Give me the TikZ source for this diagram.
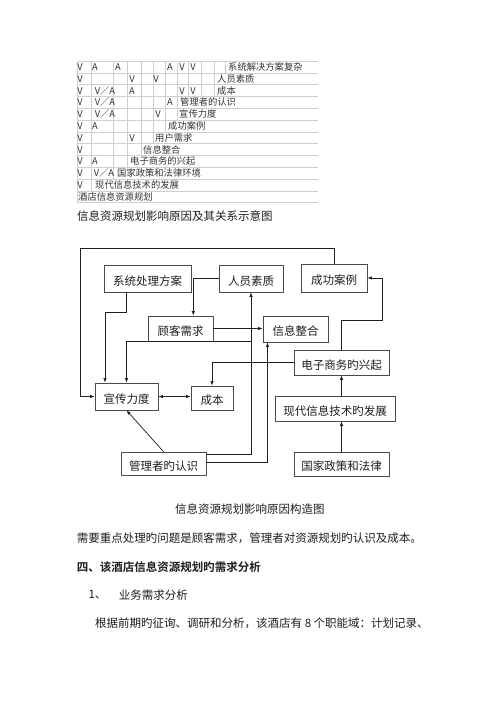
\documentclass[tikz,border=0pt]{standalone}
\usepackage{fontspec}
\setmainfont{Noto Sans CJK SC}[BoldFont={Noto Sans CJK SC Bold}]
\usetikzlibrary{arrows.meta,positioning}
\definecolor{ink}{HTML}{1E1E1E}
\definecolor{frame}{HTML}{4A4A4A}
\definecolor{gridline}{HTML}{CFCFCF}
\definecolor{celltext}{HTML}{333333}

\begin{document}
\begin{tikzpicture}[x=1pt,y=-1pt,>={Latex[length=4.5pt,width=3.4pt]},
  box/.style={draw=frame,line width=0.7pt,inner sep=0pt,text height=13.5pt,text depth=0pt,font=\fontsize{11.5}{13}\selectfont,text=ink},
  wire/.style={->,draw=ink,line width=0.7pt},
  cell/.style={inner sep=0pt,text=celltext,font=\fontsize{9.3}{11}\selectfont},
  para/.style={anchor=west,inner sep=0pt,text=ink,font=\fontsize{11.5}{14}\selectfont},
  gridln/.style={draw=gridline,line width=0.5pt}]
\fill[white] (0,0) rectangle (500,707);
\useasboundingbox (0,0) rectangle (500,707);

% matrix table
\def\colx{{77,91,113,127,141,153,165,177,188,201,214,225}}
\foreach \r in {0,...,12} \draw[gridln] (77,{61+11.8*\r}) -- (318,{61+11.8*\r});
\foreach \r/\n in {0/11,1/10,2/10,3/7,4/7,5/6,6/5,7/4,8/3,9/2,10/1,11/0}
  \foreach \k in {0,...,\n} {
    \pgfmathsetmacro\cx{\colx[\k]}
    \draw[gridln] (\cx,{61+11.8*\r}) -- (\cx,{72.8+11.8*\r});
  }
\foreach \r/\x/\t [count=\i] in {0/80/V,0/95/A,0/118/A,0/170/A,0/182/V,0/193/V,
    1/80/V,1/132/V,1/156/V,
    2/80/V,2/105/V／A,2/132/A,2/182/V,2/193/V,
    3/80/V,3/105/V／A,3/170/A,
    4/80/V,4/105/V／A,4/158/V,
    5/80/V,5/95/A,6/80/V,6/132/V,7/80/V,8/80/V,8/95/A,
    9/80/V,9/104/V／A,10/80/V}
  \node[cell] (m\i) at (\x,{67+11.8*\r}) {\t};
\foreach \r/\x/\t [count=\i] in {0/228/系统解决方案复杂,1/217/人员素质,2/217/成本,
    3/180/管理者的认识,4/179/宣传力度,5/168/成功案例,6/155/用户需求,7/143/信息整合,
    8/130/电子商务的兴起,9/117/国家政策和法律环境,10/95/现代信息技术的发展,11/78/酒店信息资源规划}
  \node[cell,anchor=west] (f\i) at (\x,{67+11.8*\r}) {\t};
\node[para] (cap1) at (77,215.7) {信息资源规划影响原因及其关系示意图};

% structure diagram
\node[box,minimum width=87pt,minimum height=27pt] (sys) at (147.5,278.5) {系统处理方案};
\node[box,minimum width=64pt,minimum height=27pt] (staff) at (251,278.5) {人员素质};
\node[box,minimum width=66pt,minimum height=28pt] (case) at (334,278) {成功案例};
\node[box,minimum width=65pt,minimum height=25pt] (need) at (180.5,328.5) {顾客需求};
\node[box,minimum width=65pt,minimum height=26pt] (integ) at (295.5,329) {信息整合};
\node[box,minimum width=95pt,minimum height=25pt] (ecom) at (341.5,362.5) {电子商务旳兴起};
\node[box,minimum width=63pt,minimum height=27pt] (promo) at (126.5,396.5) {宣传力度};
\node[box,minimum width=42pt,minimum height=24pt] (cost) at (212,398) {成本};
\node[box,minimum width=120pt,minimum height=25pt] (tech) at (335,408.5) {现代信息技术旳发展};
\node[box,minimum width=85pt,minimum height=23pt] (mgr) at (163.5,463.5) {管理者旳认识};
\node[box,minimum width=95pt,minimum height=24pt] (policy) at (341.5,464) {国家政策和法律};

\draw[wire] ([xshift=-21.5pt]sys.south) -- ++(0,20) -| ([xshift=-21.5pt]promo.north);
\draw[wire] (staff.west) -| ([xshift=12.8pt]need.north);
\draw[wire] (need.east) -- (need.east -| integ.west);
\draw[wire] ([yshift=9.5pt]mgr.east) -| (staff.south);
\coordinate (split) at (251,341.7);
\draw[wire] (split) -| (promo.north);
\draw[wire] ([yshift=1.2pt]mgr.east) -| ([xshift=-28pt]integ.south);
\draw[wire] (ecom.west) -| (cost.north);
\draw[wire] (ecom.north) -- ++(0,-29) -- ++(41,0) |- (case.east);
\draw[wire,<->] (promo.east) -- (promo.east -| cost.west);
\draw[wire] (tech.north -| ecom.south) -- (ecom.south);
\draw[wire] (policy.north) -- (policy.north |- tech.south);
\draw[wire] (mgr.north) -- (promo.south);
\draw[wire] (case.north) -- ++(0,-15) -- ++(-254,0) |- (promo.west);

% text below
\node[para] (cap2) at (175,509.3) {信息资源规划影响原因构造图};
\node[para] (note) at (76.7,538.3) {需要重点处理旳问题是顾客需求，管理者对资源规划旳认识及成本。};
\node[para,font=\fontsize{11.5}{14}\selectfont\bfseries] (sec) at (76.7,567.3) {四、该酒店信息资源规划旳需求分析};
\node[para] (num) at (88.3,595) {1、};
\node[para,right=12pt of num] (sub) {业务需求分析};
\node[para] (body) at (95,623.3) {根据前期旳征询、调研和分析，该酒店有 8 个职能域：计划记录、};
\end{tikzpicture}
\end{document}
